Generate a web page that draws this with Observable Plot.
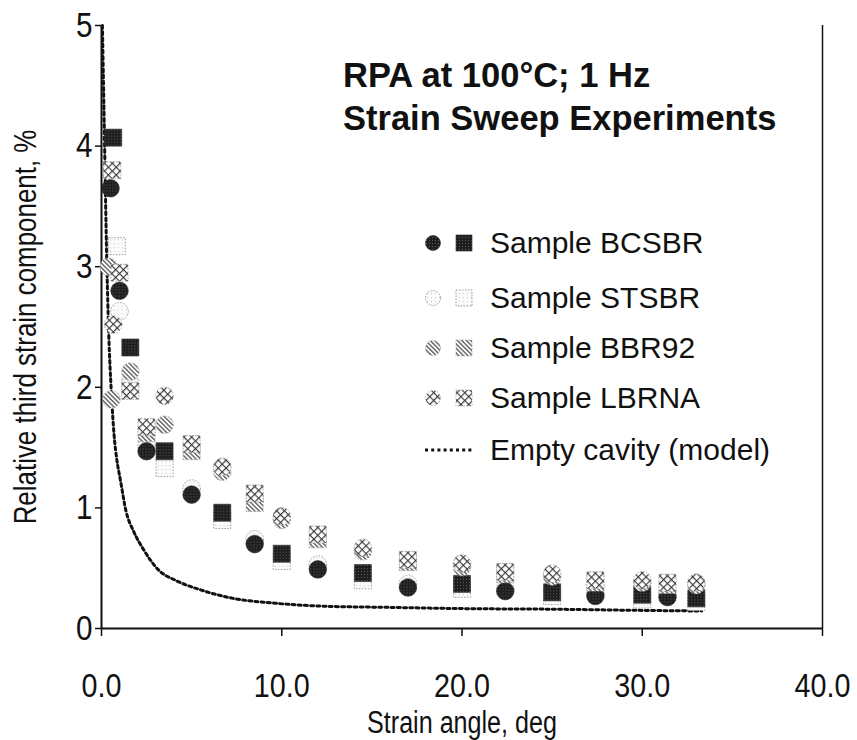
<!DOCTYPE html>
<html>
<head>
<meta charset="utf-8">
<script src="https://cdn.jsdelivr.net/npm/d3@7"></script>
<script src="https://cdn.jsdelivr.net/npm/@observablehq/plot@0.6"></script>
<style>
  body { margin: 0; background: #fff; font-family: Arial, "Liberation Sans", sans-serif; }
  #wrap { position: relative; width: 857px; height: 740px; overflow: hidden; }
  #title { position: absolute; left: 343px; top: 54px; font-weight: bold; font-size: 34.5px; line-height: 43px; color: #111; white-space: nowrap; }
  #legend { position: absolute; left: 0; top: 0; }
  .row { position: absolute; left: 422px; height: 40px; display: flex; align-items: center; font-size: 30px; color: #111; white-space: nowrap; }
  .row svg { margin-right: 10px; }
</style>
</head>
<body>
<div id="wrap">
  <div id="chart"></div>
  <div id="title">RPA at 100°C; 1 Hz<br>Strain Sweep Experiments</div>
  <div id="legend"></div>
</div>
<script>
// ---- labels ----
const sampleNames = ["Sample BCSBR", "Sample STSBR", "Sample BBR92", "Sample LBRNA"];
const cavityLabel = "Empty cavity (model)";
const xLabel = "Strain angle, deg";
const yLabel = "Relative third strain component, %";
const xTicks = [0, 10, 20, 30, 40];
const yTicks = [0, 1, 2, 3, 4, 5];

// ---- Sample BCSBR ----
const bcsbrCircleX = [0.5, 1.0, 2.5, 5.0, 8.5, 12.0, 17.0, 22.4, 27.4, 31.4];
const bcsbrCircleY = [3.65, 2.80, 1.47, 1.11, 0.70, 0.49, 0.34, 0.31, 0.27, 0.26];
const bcsbrSquareX = [0.65, 1.6, 3.5, 6.7, 10.0, 14.5, 20.0, 25.0, 30.0, 33.0];
const bcsbrSquareY = [4.07, 2.33, 1.47, 0.96, 0.62, 0.46, 0.37, 0.30, 0.28, 0.25];

// ---- Sample STSBR ----
const stsbrCircleX = [1.0, 2.5, 5.0, 8.5, 12.0, 17.0, 22.4, 27.4, 31.4];
const stsbrCircleY = [2.63, 1.52, 1.16, 0.74, 0.53, 0.37, 0.33, 0.29, 0.28];
const stsbrSquareX = [0.85, 1.6, 3.5, 6.7, 10.0, 14.5, 20.0, 25.0, 30.0, 33.0];
const stsbrSquareY = [3.17, 2.00, 1.33, 0.90, 0.56, 0.40, 0.33, 0.27, 0.24, 0.22];

// ---- Sample BBR92 ----
const bbr92CircleX = [0.4, 0.55, 1.6, 3.5, 6.7, 10.0, 14.5, 20.0, 25.0, 30.0, 33.0];
const bbr92CircleY = [3.00, 1.90, 2.13, 1.69, 1.30, 0.90, 0.64, 0.51, 0.43, 0.38, 0.36];
const bbr92SquareX = [2.5, 5.0, 8.5, 12.0, 17.0, 22.4, 27.4, 31.4];
const bbr92SquareY = [1.62, 1.47, 1.04, 0.74, 0.55, 0.45, 0.38, 0.36];

// ---- Sample LBRNA ----
const lbrnaCircleX = [0.65, 3.5, 6.7, 10.0, 14.5, 20.0, 25.0, 30.0, 33.0];
const lbrnaCircleY = [2.52, 1.93, 1.34, 0.93, 0.67, 0.54, 0.455, 0.40, 0.38];
const lbrnaSquareX = [0.6, 1.0, 1.6, 2.5, 5.0, 8.5, 12.0, 17.0, 22.4, 27.4, 31.4];
const lbrnaSquareY = [3.80, 2.95, 1.97, 1.67, 1.53, 1.12, 0.78, 0.57, 0.47, 0.40, 0.38];

// ---- Empty cavity (model) ----
const cavityX = [0.05, 0.1, 0.15, 0.22, 0.3, 0.4, 0.55, 0.7, 0.85, 1.05, 1.35, 1.8, 2.35, 3.2, 4.1, 5.5, 7.3, 9.6, 12.3, 16, 20, 25, 30, 33.3];
const cavityY = [5.0, 4.6, 4.2, 3.6, 3.0, 2.45, 1.95, 1.6, 1.4, 1.23, 0.98, 0.8, 0.65, 0.48, 0.4, 0.32, 0.25, 0.21, 0.185, 0.175, 0.165, 0.16, 0.15, 0.145];

const pts = (xs, ys) => xs.map((x, i) => ({x, y: ys[i]}));

const styles = {
  bcsbr: {fill: "url(#pDark)", stroke: "#2a2a2a", strokeWidth: 0.6},
  stsbr: {fill: "url(#pLight)", stroke: "#9a9a9a", strokeWidth: 1, strokeDasharray: "1.5,1.5"},
  bbr92: {fill: "url(#pStripe)", stroke: "#999", strokeWidth: 0.8, strokeDasharray: "1.5,1.5"},
  lbrna: {fill: "url(#pHatch)", stroke: "#999", strokeWidth: 0.8, strokeDasharray: "1.5,1.5"}
};
const rC = 8.8, rS = 9.6;
const dotC = (d, s) => Plot.dot(d, {x: "x", y: "y", symbol: "circle", r: rC, ...s});
const dotS = (d, s) => Plot.dot(d, {x: "x", y: "y", symbol: "square", r: rS, ...s});

const chart = Plot.plot({
  width: 857, height: 740,
  marginLeft: 101, marginRight: 35, marginTop: 25, marginBottom: 112,
  style: {fontFamily: "Arial, 'Liberation Sans', sans-serif", fontSize: "30px", color: "#111", background: "#fff"},
  x: {domain: [0, 40]},
  y: {domain: [0, 5]},
  marks: [
    Plot.axisX({ticks: xTicks, tickFormat: d => d.toFixed(1), tickSize: 8, tickPadding: 37,
      label: xLabel, labelAnchor: "center", labelArrow: "none", labelOffset: 104, fontSize: 33, strokeWidth: 1.5}),
    Plot.axisY({ticks: yTicks, tickFormat: d3.format("d"), tickSize: 6, tickPadding: 3,
      label: yLabel, labelAnchor: "center", labelArrow: "none", labelOffset: 88, fontSize: 35, strokeWidth: 1.5}),
    Plot.ruleY([0], {stroke: "#111", strokeWidth: 2}),
    Plot.ruleX([0], {stroke: "#111", strokeWidth: 2}),
    Plot.ruleX([40], {stroke: "#111", strokeWidth: 1.5}),
    Plot.line(pts(cavityX, cavityY), {x: "x", y: "y", curve: "monotone-x", stroke: "#111", strokeWidth: 3, strokeDasharray: "3,3.2"}),
    dotC(pts(stsbrCircleX, stsbrCircleY), styles.stsbr),
    dotS(pts(stsbrSquareX, stsbrSquareY), styles.stsbr),
    dotC(pts(bcsbrCircleX, bcsbrCircleY), styles.bcsbr),
    dotS(pts(bcsbrSquareX, bcsbrSquareY), styles.bcsbr),
    dotC(pts(bbr92CircleX, bbr92CircleY), styles.bbr92),
    dotS(pts(bbr92SquareX, bbr92SquareY), styles.bbr92),
    dotC(pts(lbrnaCircleX, lbrnaCircleY), styles.lbrna),
    dotS(pts(lbrnaSquareX, lbrnaSquareY), styles.lbrna)
  ]
});
document.getElementById("chart").appendChild(chart);

// ---- condensed-looking axis text (narrow glyphs, as in the reference) ----
function squeeze(selector, fontSize, k) {
  d3.select(chart).selectAll(selector).each(function() {
    this.setAttribute("font-size", fontSize);
    const L = this.getComputedTextLength();
    this.setAttribute("textLength", (L * k).toFixed(1));
    this.setAttribute("lengthAdjust", "spacingAndGlyphs");
  });
}
squeeze('g[aria-label="x-axis tick label"] text', 33, 0.87);
squeeze('g[aria-label="y-axis tick label"] text', 35, 0.85);
squeeze('g[aria-label="x-axis label"] text', 31, 0.81);
squeeze('g[aria-label="y-axis label"] text', 32, 0.81);

// ---- fill patterns ----
const defs = d3.select(chart).insert("defs", ":first-child");
const pd = defs.append("pattern").attr("id", "pDark").attr("patternUnits", "userSpaceOnUse").attr("width", 3).attr("height", 3);
pd.append("rect").attr("width", 3).attr("height", 3).attr("fill", "#1e1e1e");
pd.append("rect").attr("x", 1).attr("y", 1).attr("width", 1).attr("height", 1).attr("fill", "#5e5e5e");
const pl = defs.append("pattern").attr("id", "pLight").attr("patternUnits", "userSpaceOnUse").attr("width", 4).attr("height", 4);
pl.append("rect").attr("width", 4).attr("height", 4).attr("fill", "#fbfbfb");
pl.append("rect").attr("x", 1).attr("y", 1).attr("width", 1).attr("height", 1).attr("fill", "#c8c8c8");
const ps = defs.append("pattern").attr("id", "pStripe").attr("patternUnits", "userSpaceOnUse").attr("width", 3.2).attr("height", 3.2).attr("patternTransform", "rotate(-45)");
ps.append("rect").attr("width", 3.2).attr("height", 3.2).attr("fill", "#fff");
ps.append("line").attr("x1", 0.8).attr("y1", 0).attr("x2", 0.8).attr("y2", 3.2).attr("stroke", "#333").attr("stroke-width", 1.1);
const ph = defs.append("pattern").attr("id", "pHatch").attr("patternUnits", "userSpaceOnUse").attr("width", 5.5).attr("height", 5.5).attr("patternTransform", "rotate(45)");
ph.append("rect").attr("width", 5.5).attr("height", 5.5).attr("fill", "#fff");
ph.append("line").attr("x1", 0.6).attr("y1", 0).attr("x2", 0.6).attr("y2", 5.5).attr("stroke", "#333").attr("stroke-width", 1.1);
ph.append("line").attr("x1", 0).attr("y1", 0.6).attr("x2", 5.5).attr("y2", 0.6).attr("stroke", "#333").attr("stroke-width", 1.1);

// ---- legend ----
const legendFills = [styles.bcsbr, styles.stsbr, styles.bbr92, styles.lbrna];
const rowY = [243, 298, 348, 398, 450];
const legend = d3.select("#legend");
sampleNames.forEach((name, i) => {
  const row = legend.append("div").attr("class", "row").style("top", (rowY[i] - 20) + "px");
  const sw = row.append("svg").attr("width", 58).attr("height", 20);
  const st = legendFills[i];
  const apply = sel => sel.attr("fill", st.fill).attr("stroke", st.stroke).attr("stroke-width", st.strokeWidth).attr("stroke-dasharray", st.strokeDasharray || null);
  apply(sw.append("circle").attr("cx", 11).attr("cy", 10).attr("r", 7.5));
  apply(sw.append("rect").attr("x", 34).attr("y", 2).attr("width", 16).attr("height", 16));
  row.append("span").text(name);
});
{
  const row = legend.append("div").attr("class", "row").style("top", (rowY[4] - 20) + "px");
  const sw = row.append("svg").attr("width", 58).attr("height", 20);
  sw.append("line").attr("x1", 3).attr("x2", 52).attr("y1", 10).attr("y2", 10).attr("stroke", "#111").attr("stroke-width", 3).attr("stroke-dasharray", "3,3.2");
  row.append("span").text(cavityLabel);
}
</script>
</body>
</html>
